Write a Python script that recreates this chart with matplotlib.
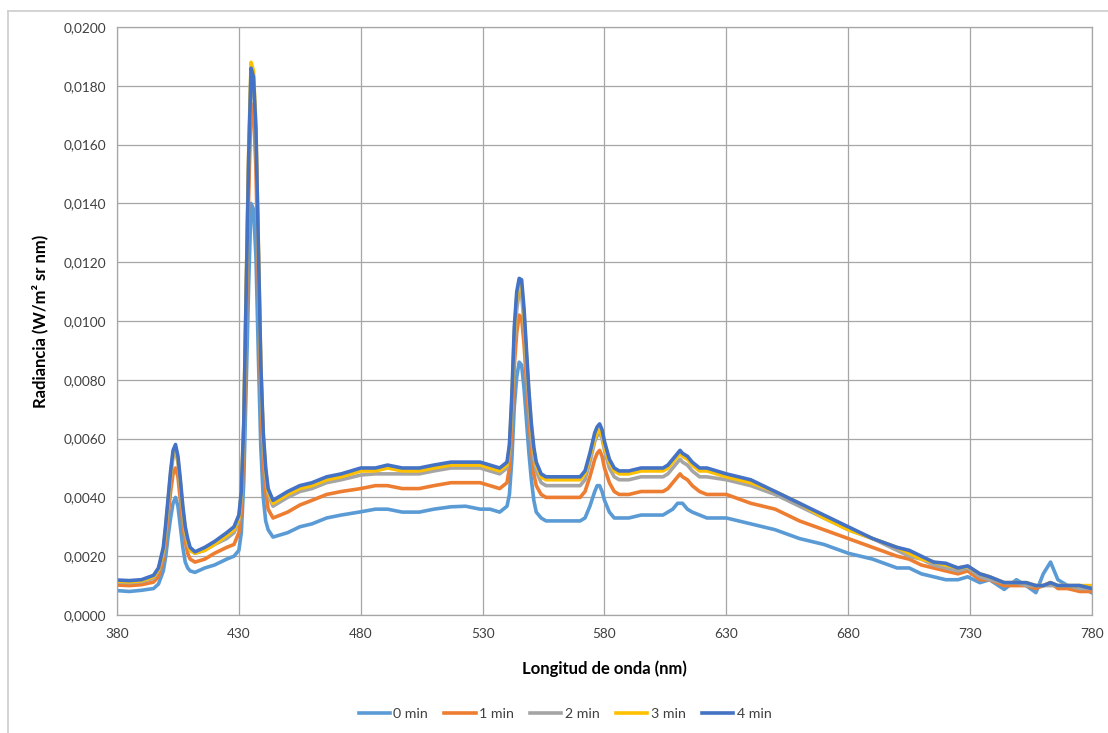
import matplotlib
matplotlib.use("Agg")
import matplotlib.pyplot as plt
from matplotlib.ticker import FuncFormatter, MultipleLocator
from matplotlib.lines import Line2D

plt.rcParams['font.family'] = ['Lato', 'DejaVu Sans']

wavelength = [380, 385, 390, 395, 397, 399, 400, 401, 402, 403,
              404, 405, 406, 407, 408, 409, 410, 412, 416, 420,
              425, 428, 430, 431, 432, 433, 434, 435, 436, 437,
              438, 439, 440, 441, 442, 444, 450, 455, 460, 466,
              472, 480, 486, 491, 497, 504, 510, 517, 523, 529,
              533, 537, 540, 541, 542, 543, 544, 545, 546, 547,
              548, 549, 550, 551, 552, 554, 556, 560, 565, 570,
              572, 574, 576, 577, 578, 579, 580, 582, 584, 586,
              590, 595, 600, 604, 606, 608, 610, 611, 612, 614,
              616, 619, 622, 630, 640, 650, 660, 670, 680, 690,
              700, 705, 710, 715, 720, 725, 729, 734, 738, 744,
              749, 753, 757, 760, 763, 766, 770, 775, 780]

min4 = [0.00119, 0.00117, 0.00120, 0.00135, 0.0016, 0.0023, 0.0031, 0.0040, 0.0049, 0.0056,
        0.0058, 0.0054, 0.0046, 0.0037, 0.0030, 0.0026, 0.0023, 0.00215, 0.0023, 0.0025,
        0.0028, 0.0030, 0.0034, 0.0042, 0.0065, 0.0110, 0.0155, 0.0186, 0.0183, 0.0165,
        0.0125, 0.0085, 0.0062, 0.0050, 0.0043, 0.0039, 0.0042, 0.0044, 0.0045, 0.0047,
        0.0048, 0.0050, 0.0050, 0.0051, 0.0050, 0.0050, 0.0051, 0.0052, 0.0052, 0.0052,
        0.0051, 0.0050, 0.0052, 0.0058, 0.0075, 0.0098, 0.0110, 0.01145, 0.0114, 0.0104,
        0.0090, 0.0076, 0.0065, 0.0057, 0.0052, 0.0048, 0.0047, 0.0047, 0.0047, 0.0047,
        0.0049, 0.0055, 0.0062, 0.0064, 0.0065, 0.0063, 0.0059, 0.0053, 0.0050, 0.0049,
        0.0049, 0.0050, 0.0050, 0.0050, 0.0051, 0.0053, 0.0055, 0.0056, 0.0055, 0.0054,
        0.0052, 0.0050, 0.0050, 0.0048, 0.0046, 0.0042, 0.0038, 0.0034, 0.0030, 0.0026,
        0.0023, 0.0022, 0.0020, 0.0018, 0.00176, 0.0016, 0.00167, 0.0014, 0.0013, 0.0011,
        0.0011, 0.0011, 0.0010, 0.0010, 0.0011, 0.0010, 0.0010, 0.0010, 0.0009]

min3 = [0.00115, 0.00113, 0.00116, 0.0013, 0.00155, 0.0022, 0.0030, 0.0039, 0.0048, 0.0055,
        0.0057, 0.0053, 0.0045, 0.0036, 0.0029, 0.0025, 0.0022, 0.0021, 0.0022, 0.0024,
        0.0027, 0.0029, 0.0033, 0.0041, 0.0065, 0.0111, 0.0157, 0.0188, 0.0185, 0.0166,
        0.0126, 0.0085, 0.0061, 0.0049, 0.0042, 0.0038, 0.0041, 0.0043, 0.0044, 0.0046,
        0.0047, 0.0049, 0.0049, 0.0050, 0.0049, 0.0049, 0.0050, 0.0051, 0.0051, 0.0051,
        0.0050, 0.0049, 0.0051, 0.0057, 0.0073, 0.0096, 0.0108, 0.0113, 0.0112, 0.0102,
        0.0088, 0.0075, 0.0064, 0.0056, 0.0051, 0.0047, 0.0046, 0.0046, 0.0046, 0.0046,
        0.0048, 0.0054, 0.0060, 0.0062, 0.0063, 0.0061, 0.0057, 0.0052, 0.0049, 0.0048,
        0.0048, 0.0049, 0.0049, 0.0049, 0.0050, 0.0052, 0.0054, 0.0055, 0.0054, 0.0053,
        0.0051, 0.0049, 0.0049, 0.0047, 0.0045, 0.0042, 0.0038, 0.0033, 0.0029, 0.0026,
        0.0023, 0.0021, 0.0019, 0.0018, 0.0017, 0.0016, 0.00165, 0.0014, 0.0013, 0.0011,
        0.0011, 0.0011, 0.0010, 0.0010, 0.0011, 0.0010, 0.0010, 0.0010, 0.0010]

min2 = [0.00112, 0.00110, 0.00113, 0.00125, 0.0015, 0.0021, 0.0029, 0.0038, 0.0047, 0.0054,
        0.0056, 0.0052, 0.0044, 0.0035, 0.0028, 0.0024, 0.0022, 0.0021, 0.0022, 0.0024,
        0.0026, 0.0028, 0.0032, 0.0040, 0.0063, 0.0108, 0.0153, 0.0184, 0.0181, 0.0162,
        0.0122, 0.0083, 0.0059, 0.0048, 0.0041, 0.0037, 0.0040, 0.0042, 0.0043, 0.0045,
        0.0046, 0.00476, 0.0048, 0.0048, 0.0048, 0.0048, 0.0049, 0.0050, 0.0050, 0.0050,
        0.0049, 0.0048, 0.0050, 0.0056, 0.0071, 0.0093, 0.0104, 0.0110, 0.0109, 0.0099,
        0.0085, 0.0072, 0.0061, 0.0053, 0.0049, 0.0045, 0.0044, 0.0044, 0.0044, 0.0044,
        0.0046, 0.0052, 0.0059, 0.0061, 0.0062, 0.0060, 0.0056, 0.0050, 0.0047, 0.0046,
        0.0046, 0.0047, 0.0047, 0.0047, 0.0048, 0.0050, 0.0052, 0.0053, 0.0052, 0.0051,
        0.0049, 0.0047, 0.0047, 0.0046, 0.0044, 0.0041, 0.0037, 0.0033, 0.0029, 0.0026,
        0.0022, 0.0020, 0.0019, 0.0017, 0.0016, 0.0015, 0.0016, 0.0013, 0.0012, 0.0011,
        0.0011, 0.0010, 0.0010, 0.0010, 0.0010, 0.0010, 0.0010, 0.0009, 0.0009]

min1 = [0.00102, 0.00100, 0.00103, 0.00112, 0.0013, 0.0019, 0.0026, 0.0034, 0.0042, 0.0048,
        0.0050, 0.0047, 0.0039, 0.0031, 0.0025, 0.0021, 0.0019, 0.0018, 0.0019, 0.0021,
        0.0023, 0.0024, 0.0028, 0.0035, 0.0056, 0.0098, 0.0142, 0.0174, 0.0171, 0.0152,
        0.0112, 0.0074, 0.0052, 0.0042, 0.0036, 0.0033, 0.0035, 0.00374, 0.0039, 0.0041,
        0.0042, 0.0043, 0.0044, 0.0044, 0.0043, 0.0043, 0.0044, 0.0045, 0.0045, 0.0045,
        0.0044, 0.0043, 0.0045, 0.0050, 0.0064, 0.0085, 0.0096, 0.0102, 0.0101, 0.0092,
        0.0079, 0.0066, 0.0056, 0.0048, 0.0044, 0.0041, 0.0040, 0.0040, 0.0040, 0.0040,
        0.0042, 0.0047, 0.0053, 0.0055, 0.0056, 0.0054, 0.0050, 0.0045, 0.0042, 0.0041,
        0.0041, 0.0042, 0.0042, 0.0042, 0.0043, 0.0045, 0.0047, 0.0048, 0.0047, 0.0046,
        0.0044, 0.0042, 0.0041, 0.0041, 0.0038, 0.0036, 0.0032, 0.0029, 0.0026, 0.0023,
        0.0020, 0.0019, 0.0017, 0.0016, 0.0015, 0.0014, 0.0015, 0.0012, 0.0012, 0.0010,
        0.0010, 0.0010, 0.0009, 0.0010, 0.0011, 0.0009, 0.0009, 0.0008, 0.0008]

min0 = [0.00083, 0.00080, 0.00084, 0.0009, 0.00105, 0.0015, 0.0020, 0.0027, 0.0033, 0.0038,
        0.0040, 0.0037, 0.0030, 0.0023, 0.0018, 0.0016, 0.0015, 0.00145, 0.0016, 0.0017,
        0.0019, 0.0020, 0.0022, 0.0028, 0.0045, 0.0078, 0.0112, 0.0140, 0.0138, 0.0122,
        0.0088, 0.0057, 0.0040, 0.0032, 0.0029, 0.00265, 0.0028, 0.0030, 0.0031, 0.0033,
        0.0034, 0.00351, 0.0036, 0.0036, 0.0035, 0.0035, 0.0036, 0.00368, 0.0037, 0.0036,
        0.0036, 0.0035, 0.0037, 0.0041, 0.0053, 0.0071, 0.0081, 0.0086, 0.0085, 0.0077,
        0.0066, 0.0055, 0.0046, 0.0039, 0.0035, 0.0033, 0.0032, 0.0032, 0.0032, 0.0032,
        0.0033, 0.0037, 0.0042, 0.0044, 0.0044, 0.0042, 0.0039, 0.0035, 0.0033, 0.0033,
        0.0033, 0.0034, 0.0034, 0.0034, 0.0035, 0.0036, 0.0038, 0.0038, 0.0038, 0.0036,
        0.0035, 0.0034, 0.0033, 0.0033, 0.0031, 0.0029, 0.0026, 0.0024, 0.0021, 0.0019,
        0.0016, 0.0016, 0.0014, 0.0013, 0.0012, 0.0012, 0.0013, 0.0011, 0.0012, 0.00087,
        0.0012, 0.0010, 0.00076, 0.0014, 0.0018, 0.0012, 0.0010, 0.0010, 0.00075]

series_labels = ["0 min", "1 min", "2 min", "3 min", "4 min"]
series_values = [min0, min1, min2, min3, min4]
colors = ["#5B9BD5", "#ED7D31", "#A5A5A5", "#FFC000", "#4472C4"]
x_ticks = [380, 430, 480, 530, 580, 630, 680, 730, 780]

W, H = 1108, 733
fig = plt.figure(figsize=(W / 100, H / 100), dpi=100)
ax = fig.add_axes([117 / W, 1 - 615 / H, (1092 - 117) / W, (615 - 27) / H])

for lab, vals, c in zip(series_labels, series_values, colors):
    ax.plot(wavelength, vals, color=c, lw=2.6, label=lab,
            solid_joinstyle='round', solid_capstyle='round')

ax.set_xlim(380, 780)
ax.set_ylim(0, 0.02)
ax.set_xticks(x_ticks)
ax.yaxis.set_major_locator(MultipleLocator(0.002))
ax.yaxis.set_major_formatter(FuncFormatter(lambda v, p: f"{v:.4f}".replace('.', ',')))
ax.grid(True, color="#A6A6A6", lw=0.9)
ax.set_axisbelow(True)
for s in ax.spines.values():
    s.set_color("#A6A6A6")
    s.set_linewidth(0.9)
ax.tick_params(length=0, labelsize=9.8, colors="#404040", pad=8)
ax.tick_params(axis='x', pad=9)

ax.set_xlabel("Longitud de onda (nm)", fontsize=12, fontweight='bold', color="#000000", labelpad=15)
ax.set_ylabel("Radiancia (W/m² sr nm)", fontsize=12, fontweight='bold', color="#000000", labelpad=11)

handles = [Line2D([0], [0], color=c, lw=2.6) for c in colors]
fig.legend(handles, series_labels, loc='center', bbox_to_anchor=(565 / W, 1 - 714 / H),
           ncol=5, frameon=False, fontsize=10.2, handlelength=2.2, handletextpad=0.25,
           columnspacing=1.15, labelcolor="#404040")

# outer chart border (partially visible)
fig.add_artist(Line2D([8 / W, 1.0], [1 - 11 / H, 1 - 11 / H], color="#D0D0D0", lw=1.3,
                      transform=fig.transFigure))
fig.add_artist(Line2D([8 / W, 8 / W], [0.0, 1 - 11 / H], color="#D0D0D0", lw=1.3,
                      transform=fig.transFigure))

fig.savefig("out.png", dpi=100, facecolor="white")
